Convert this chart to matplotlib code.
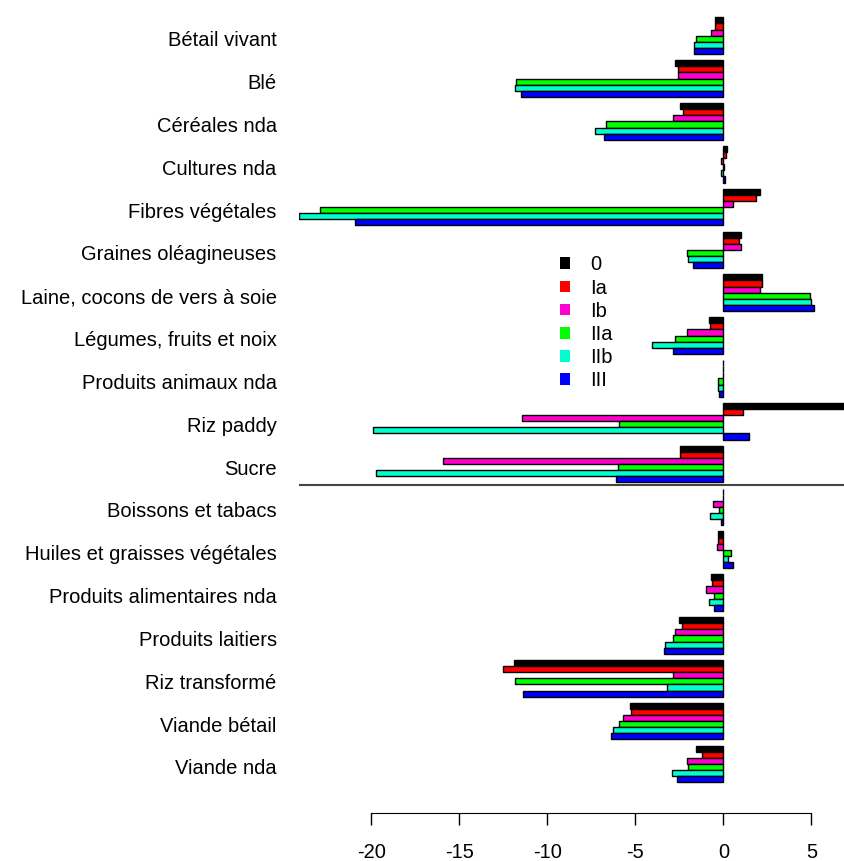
import numpy as np
import matplotlib
matplotlib.use("Agg")
import matplotlib.pyplot as plt
from matplotlib.patches import Patch

plt.rcParams['font.family'] = ['Liberation Sans', 'DejaVu Sans']

# products, top to bottom
categories = ["Bétail vivant", "Blé", "Céréales nda", "Cultures nda",
              "Fibres végétales", "Graines oléagineuses",
              "Laine, cocons de vers à soie", "Légumes, fruits et noix",
              "Produits animaux nda", "Riz paddy", "Sucre",
              "Boissons et tabacs", "Huiles et graisses végétales",
              "Produits alimentaires nda", "Produits laitiers",
              "Riz transformé", "Viande bétail", "Viande nda"]

scenarios = ["0", "Ia", "Ib", "IIa", "IIb", "III"]

s_0   = [-0.5, -2.77, -2.46, 0.2, 2.11, 0.98, 2.19, -0.82, -0.02, 7.5, -2.48,
         -0.04, -0.29, -0.68, -2.54, -11.9, -5.31, -1.58]
s_Ia  = [-0.47, -2.6, -2.3, 0.16, 1.87, 0.88, 2.17, -0.78, 0.0, 1.12, -2.46,
         -0.02, -0.29, -0.64, -2.32, -12.5, -5.23, -1.19]
s_Ib  = [-0.7, -2.6, -2.83, -0.16, 0.57, 0.98, 2.09, -2.09, 0.0, -11.45, -15.9,
         -0.6, -0.37, -0.96, -2.77, -2.83, -5.68, -2.09]
s_IIa = [-1.54, -11.75, -6.65, 0.06, -22.9, -2.09, 4.94, -2.77, -0.29, -5.9, -5.97,
         -0.23, 0.45, -0.51, -2.85, -11.84, -5.9, -2.0]
s_IIb = [-1.68, -11.84, -7.26, -0.15, -24.07, -2.0, 5.0, -4.04, -0.29, -19.9, -19.7,
         -0.74, 0.29, -0.82, -3.3, -3.22, -6.26, -2.89]
s_III = [-1.68, -11.47, -6.75, 0.1, -20.9, -1.7, 5.15, -2.83, -0.23, 1.44, -6.1,
         -0.16, 0.53, -0.51, -3.36, -11.38, -6.36, -2.63]

series = [s_0, s_Ia, s_Ib, s_IIa, s_IIb, s_III]
colors = ["#000000", "#FF0000", "#FF00CC", "#00FF00", "#00FFCC", "#0000FF"]

# first 11 products vs the processed ones below the line
n_top = 11

fig = plt.figure(figsize=(8.45, 8.61), dpi=100)
ax = fig.add_axes([0.3538, 0.0708, 0.6462, 0.9175])

n = len(categories)
stride = len(series) + 1
base = np.arange(n) * stride

for j, (vals, c) in enumerate(zip(series, colors)):
    ax.barh(base + j + 0.5, vals, height=1.0, color=c,
            edgecolor="black", linewidth=1.0, clip_on=True)

ax.axhline(base[n_top] - 0.5, color="#444444", linewidth=1.5)

ax.set_xlim(-24.1, 6.91)
ax.set_ylim(127.9, -1.19)

ax.set_yticks(base + 3.5)
ax.set_yticklabels(categories)
ax.tick_params(axis="y", length=0, pad=16, labelsize=14.5)

ax.set_xticks([-20, -15, -10, -5, 0, 5])
ax.set_xticklabels(["-20", "-15", "-10", "-5", "0", "5"])
ax.tick_params(axis="x", direction="out", length=8.4, width=1.0, pad=13,
               labelsize=14.5)

for side in ["top", "right", "left"]:
    ax.spines[side].set_visible(False)
ax.spines["bottom"].set_bounds(-20, 5)
ax.spines["bottom"].set_position(("outward", 9.4))

handles = [Patch(facecolor=c, edgecolor="none") for c in colors]
ax.legend(handles, scenarios, loc="upper left",
          bbox_to_anchor=(0.6627, 0.7035), bbox_transform=fig.transFigure,
          frameon=False, fontsize=14.5, handlelength=0.52, handleheight=0.52,
          handletextpad=1.0, labelspacing=0.21, borderpad=0, borderaxespad=0)

plt.savefig("out.png", dpi=100)
